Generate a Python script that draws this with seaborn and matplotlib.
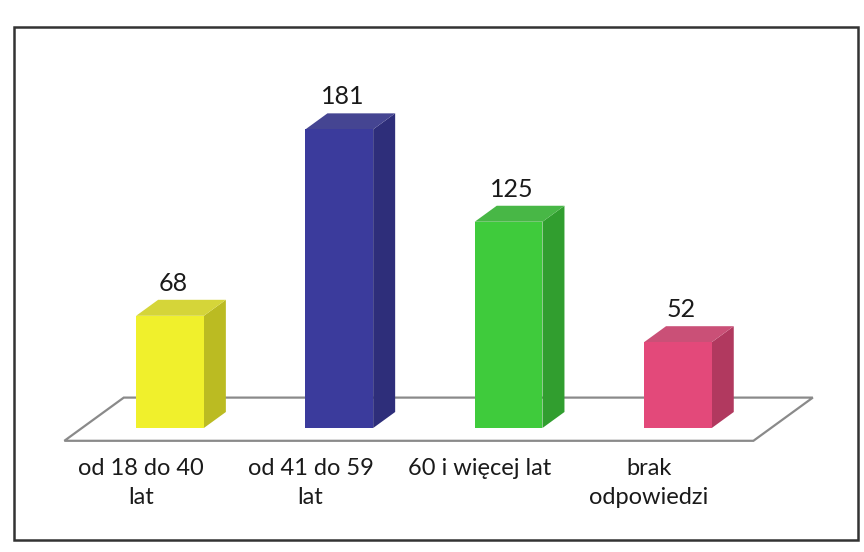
import matplotlib
matplotlib.use("Agg")
import matplotlib.pyplot as plt
from matplotlib.patches import Polygon, Rectangle
from matplotlib.colors import to_rgb
import seaborn as sns
import pandas as pd

categories = ["od 18 do 40\nlat", "od 41 do 59\nlat", "60 i więcej lat", "brak\nodpowiedzi"]
values = [68, 181, 125, 52]
front_colors = ["#F0F02C", "#3B3B9C", "#3FCB3C", "#E3497A"]

sns.set_theme(style="white")
plt.rcParams["font.family"] = ["Lato", "DejaVu Sans"]

W, H = 864, 552
fig = plt.figure(figsize=(W / 100, H / 100), dpi=100)
ax = fig.add_axes([0, 0, 1, 1])

df = pd.DataFrame({"cat": categories, "val": values})
sns.barplot(data=df, x="cat", y="val", hue="cat", palette=front_colors,
            width=0.40, legend=False, ax=ax, saturation=1, linewidth=0, zorder=3)

# pixel -> data scaling
px_per_x = 169.3
px_per_y = 1.65
x0_px = 170
base_px = 124  # from bottom
ax.set_xlim(-x0_px / px_per_x, (W - x0_px) / px_per_x)
ax.set_ylim(-base_px / px_per_y, (H - base_px) / px_per_y)
ax.set_axis_off()

# oblique depth vector (per bar depth)
ddx = 22 / px_per_x
ddy = 16 / px_per_y


def shade(c, f):
    r, g, b = to_rgb(c)
    return (r * f, g * f, b * f)


def lighten(c, f):
    r, g, b = to_rgb(c)
    return (r + (1 - r) * f, g + (1 - g) * f, b + (1 - b) * f)


# floor
n = len(categories)
fx0, fx1 = -0.52, n - 1 + 0.55
front_d, back_d = -0.8, 1.9
floor = Polygon([(fx0 + front_d * ddx, front_d * ddy), (fx1 + front_d * ddx, front_d * ddy),
                 (fx1 + back_d * ddx, back_d * ddy), (fx0 + back_d * ddx, back_d * ddy)],
                closed=True, facecolor="white", edgecolor="#8a8a8a", linewidth=1.6, zorder=1)
ax.add_patch(floor)

for p, c, v in zip(ax.patches, front_colors, values):
    x = p.get_x()
    w = p.get_width()
    h = p.get_height()
    side = Polygon([(x + w, 0), (x + w + ddx, ddy), (x + w + ddx, h + ddy), (x + w, h)],
                   closed=True, facecolor=shade(c, 0.78), edgecolor="none", zorder=2.5)
    top = Polygon([(x, h), (x + ddx, h + ddy), (x + w + ddx, h + ddy), (x + w, h)],
                  closed=True, facecolor=shade(lighten(c, 0.1), 0.88), edgecolor="none", zorder=2.5)
    ax.add_patch(side)
    ax.add_patch(top)
    ax.text(x + w / 2 + ddx * 0.15, h + ddy + 3, f"{v}", ha="center", va="bottom",
            fontsize=18, color="#1a1a1a", zorder=5)

for i, lab in enumerate(categories):
    ax.text(i - 0.17, -18, lab, ha="center", va="top", fontsize=17,
            color="#1a1a1a", linespacing=1.5, zorder=5)

# outer border
fig.patches.append(Rectangle((14 / W, 12 / H), (858 - 14) / W, (525 - 12) / H,
                             transform=fig.transFigure, fill=False,
                             edgecolor="#333333", linewidth=1.8))

fig.savefig("out.png", dpi=100, facecolor="white")
